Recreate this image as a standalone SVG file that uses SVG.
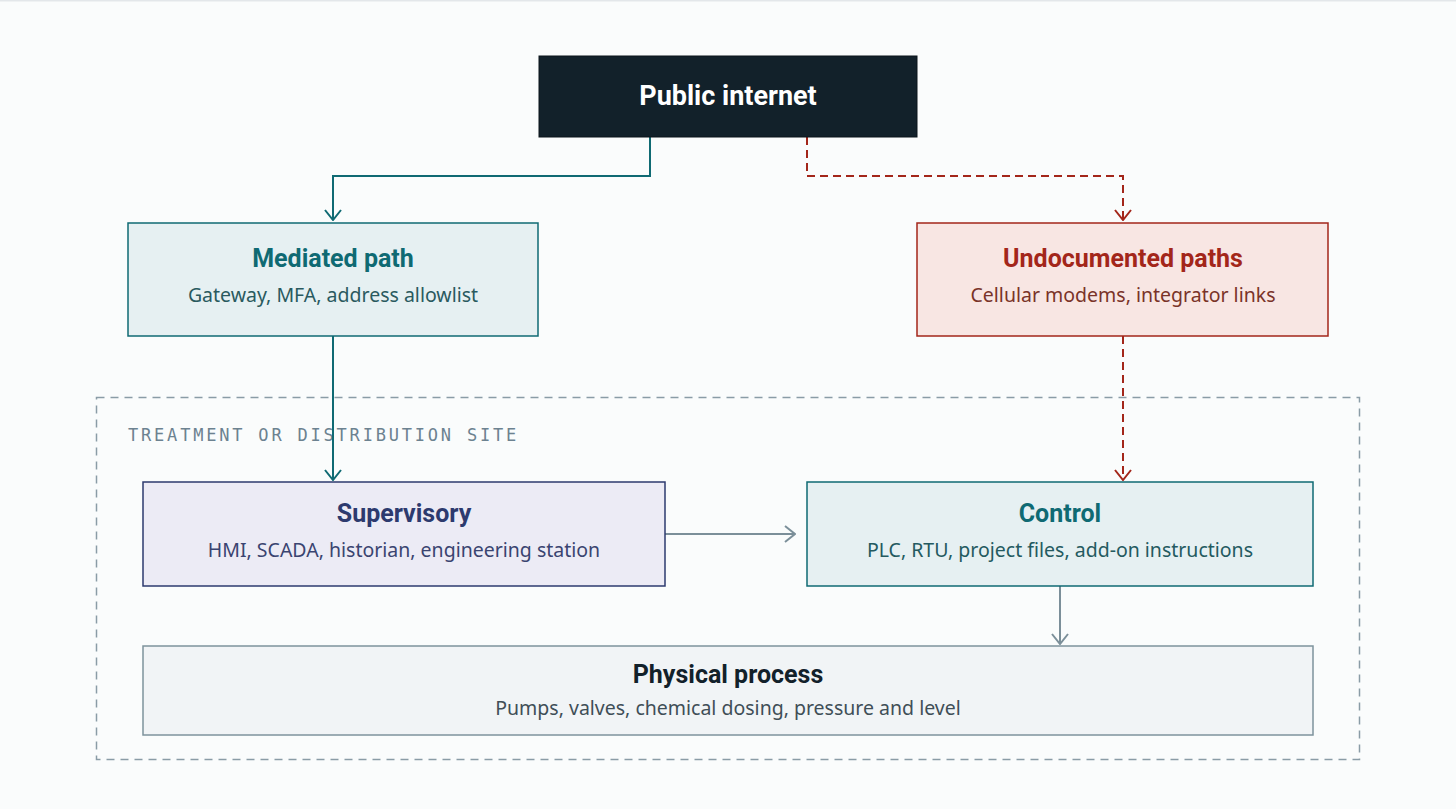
<svg xmlns="http://www.w3.org/2000/svg" width="1456" height="809" viewBox="0 0 1456 809">
<style>
.title{font-family:"Roboto","Liberation Sans",sans-serif;font-weight:bold;font-size:25px;text-anchor:middle}
.big{font-size:27px}
.sub{font-family:"Noto Sans","Open Sans",sans-serif;font-size:19.5px;text-anchor:middle}
.lbl{font-family:"DejaVu Sans Mono","Liberation Mono",monospace;font-size:17px;letter-spacing:2.8px;fill:#6c8290}
.conn{fill:none;stroke-width:2}
</style>
<defs>
<marker id="ah-teal" viewBox="0 0 12 18" refX="11" refY="9" markerWidth="12" markerHeight="18" markerUnits="userSpaceOnUse" orient="auto">
<path d="M1,1 L11,9 L1,17" fill="none" stroke="#0f6a73" stroke-width="2"/>
</marker>
<marker id="ah-red" viewBox="0 0 12 18" refX="11" refY="9" markerWidth="12" markerHeight="18" markerUnits="userSpaceOnUse" orient="auto">
<path d="M1,1 L11,9 L1,17" fill="none" stroke="#a3261a" stroke-width="2"/>
</marker>
<marker id="ah-gray" viewBox="0 0 12 18" refX="11" refY="9" markerWidth="12" markerHeight="18" markerUnits="userSpaceOnUse" orient="auto">
<path d="M1,1 L11,9 L1,17" fill="none" stroke="#7b8f99" stroke-width="2"/>
</marker>
</defs>
<rect x="0" y="0" width="1456" height="809" fill="#fafcfc"/>
<rect x="0" y="0" width="1456" height="1.5" fill="#e3e7ea"/>

<g id="site">
<rect x="96.5" y="397.5" width="1263" height="362" fill="none" stroke="#8a9ca6" stroke-width="1.5" stroke-dasharray="8 6"/>
<text class="lbl" x="128" y="441">TREATMENT OR DISTRIBUTION SITE</text>
</g>

<g id="connectors">
<path class="conn" d="M650,137 V176 H333 V220" stroke="#0f6a73" marker-end="url(#ah-teal)"/>
<path class="conn" d="M807,137 V176 H1123 V220" stroke="#a3261a" stroke-dasharray="8 5" marker-end="url(#ah-red)"/>
<path class="conn" d="M333,336 V480" stroke="#0f6a73" marker-end="url(#ah-teal)"/>
<path class="conn" d="M1123,336 V480" stroke="#a3261a" stroke-dasharray="8 5" marker-end="url(#ah-red)"/>
<path class="conn" d="M665,534 H795" stroke="#7b8f99" marker-end="url(#ah-gray)"/>
<path class="conn" d="M1060,586 V644" stroke="#7b8f99" marker-end="url(#ah-gray)"/>
</g>

<g id="public-internet">
<rect x="539" y="56" width="378" height="81" fill="#12212a" stroke="#0a151b" stroke-width="1"/>
<text class="title big" x="728" y="105" fill="#ffffff">Public internet</text>
</g>

<g id="mediated-path">
<rect x="128" y="223" width="410" height="113" fill="#e6f0f2" stroke="#0f6a73" stroke-width="1.5"/>
<text class="title" x="333" y="267" fill="#0f6a73">Mediated path</text>
<text class="sub" x="333" y="302" fill="#2a5a5f">Gateway, MFA, address allowlist</text>
</g>

<g id="undocumented-paths">
<rect x="917" y="223" width="411" height="113" fill="#f8e6e3" stroke="#a3261a" stroke-width="1.5"/>
<text class="title" x="1123" y="267" fill="#a3261a">Undocumented paths</text>
<text class="sub" x="1123" y="302" fill="#7a3328">Cellular modems, integrator links</text>
</g>

<g id="supervisory">
<rect x="143" y="482" width="522" height="104" fill="#ecebf5" stroke="#2d3a6e" stroke-width="1.5"/>
<text class="title" x="404" y="522" fill="#2d3a6e">Supervisory</text>
<text class="sub" x="404" y="557" fill="#3a4470">HMI, SCADA, historian, engineering station</text>
</g>

<g id="control">
<rect x="807" y="482" width="506" height="104" fill="#e6f0f2" stroke="#0f6a73" stroke-width="1.5"/>
<text class="title" x="1060" y="522" fill="#0f6a73">Control</text>
<text class="sub" x="1060" y="557" fill="#245a60">PLC, RTU, project files, add-on instructions</text>
</g>

<g id="physical-process">
<rect x="143" y="646" width="1170" height="89" fill="#f1f4f6" stroke="#7e939c" stroke-width="1.5"/>
<text class="title" x="728" y="683" fill="#12212a">Physical process</text>
<text class="sub" x="728" y="715" fill="#3f4e57">Pumps, valves, chemical dosing, pressure and level</text>
</g>
</svg>
